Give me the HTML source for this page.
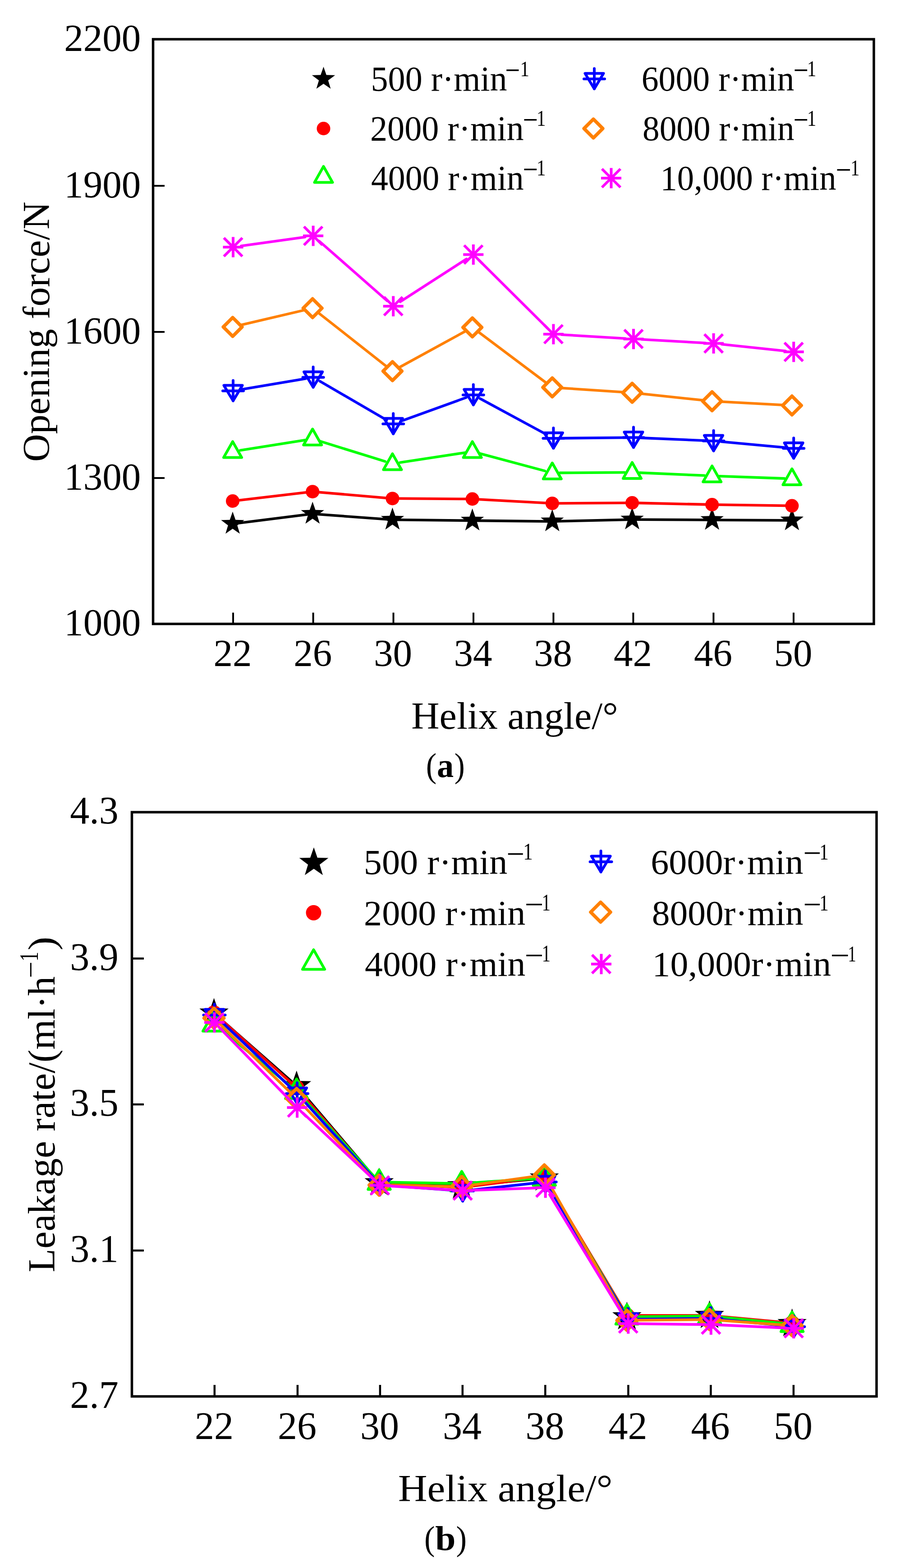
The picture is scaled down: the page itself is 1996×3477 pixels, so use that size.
<!DOCTYPE html>
<html><head><meta charset="utf-8"><title>Figure</title>
<style>
html,body{margin:0;padding:0;background:#fff;}
body{width:1996px;height:3477px;overflow:hidden;}
svg{display:block;}
text{font-family:"Liberation Serif","Times New Roman",serif;font-kerning:none;fill:#000;}
</style></head><body>
<svg width="1996" height="3477" viewBox="0 0 1996 3477">
<rect width="1996" height="3477" fill="#fff"/>
<rect x="339.5" y="87" width="1598.5" height="1296.5" fill="none" stroke="#000" stroke-width="5.5"/>
<path d="M517,1383.5V1358.5M694.6,1383.5V1358.5M872.5,1383.5V1358.5M1050,1383.5V1358.5M1227.4,1383.5V1358.5M1404.4,1383.5V1358.5M1582.4,1383.5V1358.5M1760,1383.5V1358.5M339.5,412H365M339.5,736H365M339.5,1060H365" stroke="#000" stroke-width="4" fill="none"/>
<text x="142.34" y="112.50" font-size="85" textLength="170.00" lengthAdjust="spacingAndGlyphs">2200</text>
<text x="142.34" y="437.50" font-size="85" textLength="170.00" lengthAdjust="spacingAndGlyphs">1900</text>
<text x="142.34" y="761.50" font-size="85" textLength="170.00" lengthAdjust="spacingAndGlyphs">1600</text>
<text x="142.34" y="1085.50" font-size="85" textLength="170.00" lengthAdjust="spacingAndGlyphs">1300</text>
<text x="142.34" y="1409.00" font-size="85" textLength="170.00" lengthAdjust="spacingAndGlyphs">1000</text>
<text x="473.60" y="1477.00" font-size="85" textLength="85.00" lengthAdjust="spacingAndGlyphs">22</text>
<text x="651.20" y="1477.00" font-size="85" textLength="85.00" lengthAdjust="spacingAndGlyphs">26</text>
<text x="829.10" y="1477.00" font-size="85" textLength="85.00" lengthAdjust="spacingAndGlyphs">30</text>
<text x="1006.60" y="1477.00" font-size="85" textLength="85.00" lengthAdjust="spacingAndGlyphs">34</text>
<text x="1184.00" y="1477.00" font-size="85" textLength="85.00" lengthAdjust="spacingAndGlyphs">38</text>
<text x="1361.00" y="1477.00" font-size="85" textLength="85.00" lengthAdjust="spacingAndGlyphs">42</text>
<text x="1539.00" y="1477.00" font-size="85" textLength="85.00" lengthAdjust="spacingAndGlyphs">46</text>
<text x="1716.60" y="1477.00" font-size="85" textLength="85.00" lengthAdjust="spacingAndGlyphs">50</text>
<text x="912.32" y="1615.80" font-size="85" textLength="458.40" lengthAdjust="spacingAndGlyphs">Helix angle/°</text>
<text transform="translate(109.20,1024.11) rotate(-90)" x="0" y="0" font-size="85.6" textLength="577.27" lengthAdjust="spacingAndGlyphs">Opening force/N</text>
<text x="944.70" y="1723.40" font-size="76" textLength="23.47" lengthAdjust="spacingAndGlyphs">(</text>
<text x="969.00" y="1723.40" font-size="76" font-weight="bold" textLength="37.23" lengthAdjust="spacingAndGlyphs">a</text>
<text x="1007.67" y="1723.40" font-size="76" textLength="23.08" lengthAdjust="spacingAndGlyphs">)</text>
<path d="M527.91,1160.11L681.29,1140.99M705.17,1140.38L858.43,1151.62M882.40,1152.63L1035.60,1154.27M1059.60,1154.52L1212.80,1156.08M1236.80,1155.92L1390.00,1152.28M1414.00,1152.07L1567.20,1152.93M1591.20,1153.07L1744.40,1153.93" stroke="#000000" stroke-width="5.8" stroke-linecap="round" fill="none"/>
<polygon points="516.00,1134.60 522.35,1152.86 541.68,1153.26 526.27,1164.94 531.87,1183.44 516.00,1172.40 500.13,1183.44 505.73,1164.94 490.32,1153.26 509.65,1152.86" fill="#000"/>
<polygon points="693.20,1112.50 699.55,1130.76 718.88,1131.16 703.47,1142.84 709.07,1161.34 693.20,1150.30 677.33,1161.34 682.93,1142.84 667.52,1131.16 686.85,1130.76" fill="#000"/>
<polygon points="870.40,1125.50 876.75,1143.76 896.08,1144.16 880.67,1155.84 886.27,1174.34 870.40,1163.30 854.53,1174.34 860.13,1155.84 844.72,1144.16 864.05,1143.76" fill="#000"/>
<polygon points="1047.60,1127.40 1053.95,1145.66 1073.28,1146.06 1057.87,1157.74 1063.47,1176.24 1047.60,1165.20 1031.73,1176.24 1037.33,1157.74 1021.92,1146.06 1041.25,1145.66" fill="#000"/>
<polygon points="1224.80,1129.20 1231.15,1147.46 1250.48,1147.86 1235.07,1159.54 1240.67,1178.04 1224.80,1167.00 1208.93,1178.04 1214.53,1159.54 1199.12,1147.86 1218.45,1147.46" fill="#000"/>
<polygon points="1402.00,1125.00 1408.35,1143.26 1427.68,1143.66 1412.27,1155.34 1417.87,1173.84 1402.00,1162.80 1386.13,1173.84 1391.73,1155.34 1376.32,1143.66 1395.65,1143.26" fill="#000"/>
<polygon points="1579.20,1126.00 1585.55,1144.26 1604.88,1144.66 1589.47,1156.34 1595.07,1174.84 1579.20,1163.80 1563.33,1174.84 1568.93,1156.34 1553.52,1144.66 1572.85,1144.26" fill="#000"/>
<polygon points="1756.40,1127.00 1762.75,1145.26 1782.08,1145.66 1766.67,1157.34 1772.27,1175.84 1756.40,1164.80 1740.53,1175.84 1746.13,1157.34 1730.72,1145.66 1750.05,1145.26" fill="#000"/>
<path d="M525.93,1109.83L683.27,1091.37M703.16,1091.05L860.44,1104.55M880.40,1105.46L1037.60,1106.44M1057.59,1107.05L1214.81,1115.65M1234.80,1116.13L1392.00,1115.07M1412.00,1115.23L1569.20,1118.77M1589.20,1119.15L1746.40,1121.45" stroke="#ff0000" stroke-width="5.8" stroke-linecap="round" fill="none"/>
<circle cx="516.00" cy="1111.00" r="15" fill="#f00"/>
<circle cx="693.20" cy="1090.20" r="15" fill="#f00"/>
<circle cx="870.40" cy="1105.40" r="15" fill="#f00"/>
<circle cx="1047.60" cy="1106.50" r="15" fill="#f00"/>
<circle cx="1224.80" cy="1116.20" r="15" fill="#f00"/>
<circle cx="1402.00" cy="1115.00" r="15" fill="#f00"/>
<circle cx="1579.20" cy="1119.00" r="15" fill="#f00"/>
<circle cx="1756.40" cy="1121.60" r="15" fill="#f00"/>
<path d="M532.79,998.56L676.41,975.94M709.44,978.33L854.16,1023.17M887.21,1025.64L1030.79,1003.76M1064.02,1005.59L1208.38,1044.21M1241.80,1048.49L1385.00,1047.61M1418.98,1048.24L1562.22,1054.46M1596.19,1055.81L1739.41,1060.99" stroke="#00ff00" stroke-width="5.8" stroke-linecap="round" fill="none"/>
<polygon points="516.00,979.20 536.00,1014.60 496.00,1014.60" fill="none" stroke="#0f0" stroke-width="6" stroke-linejoin="round"/>
<polygon points="693.20,951.30 713.20,986.70 673.20,986.70" fill="none" stroke="#0f0" stroke-width="6" stroke-linejoin="round"/>
<polygon points="870.40,1006.20 890.40,1041.60 850.40,1041.60" fill="none" stroke="#0f0" stroke-width="6" stroke-linejoin="round"/>
<polygon points="1047.60,979.20 1067.60,1014.60 1027.60,1014.60" fill="none" stroke="#0f0" stroke-width="6" stroke-linejoin="round"/>
<polygon points="1224.80,1026.60 1244.80,1062.00 1204.80,1062.00" fill="none" stroke="#0f0" stroke-width="6" stroke-linejoin="round"/>
<polygon points="1402.00,1025.50 1422.00,1060.90 1382.00,1060.90" fill="none" stroke="#0f0" stroke-width="6" stroke-linejoin="round"/>
<polygon points="1579.20,1033.20 1599.20,1068.60 1559.20,1068.60" fill="none" stroke="#0f0" stroke-width="6" stroke-linejoin="round"/>
<polygon points="1756.40,1039.60 1776.40,1075.00 1736.40,1075.00" fill="none" stroke="#0f0" stroke-width="6" stroke-linejoin="round"/>
<path d="M533.76,863.97L677.84,839.63M709.30,845.34L857.50,931.46M888.19,934.22L1033.81,881.58M1064.75,883.89L1212.45,963.81M1244.40,971.75L1388.00,970.45M1421.98,971.02L1565.62,977.08M1599.53,979.37L1743.27,992.73" stroke="#0000ff" stroke-width="5.8" stroke-linecap="round" fill="none"/>
<polygon points="496.50,854.60 537.50,854.60 517.00,888.80" fill="none" stroke="#00f" stroke-width="6" stroke-linejoin="round"/>
<path d="M494.00,866.80H540.00M517.00,843.80V888.80" stroke="#00f" stroke-width="6" stroke-linecap="round" fill="none"/>
<polygon points="674.10,824.60 715.10,824.60 694.60,858.80" fill="none" stroke="#00f" stroke-width="6" stroke-linejoin="round"/>
<path d="M671.60,836.80H717.60M694.60,813.80V858.80" stroke="#00f" stroke-width="6" stroke-linecap="round" fill="none"/>
<polygon points="851.70,927.80 892.70,927.80 872.20,962.00" fill="none" stroke="#00f" stroke-width="6" stroke-linejoin="round"/>
<path d="M849.20,940.00H895.20M872.20,917.00V962.00" stroke="#00f" stroke-width="6" stroke-linecap="round" fill="none"/>
<polygon points="1029.30,863.60 1070.30,863.60 1049.80,897.80" fill="none" stroke="#00f" stroke-width="6" stroke-linejoin="round"/>
<path d="M1026.80,875.80H1072.80M1049.80,852.80V897.80" stroke="#00f" stroke-width="6" stroke-linecap="round" fill="none"/>
<polygon points="1206.90,959.70 1247.90,959.70 1227.40,993.90" fill="none" stroke="#00f" stroke-width="6" stroke-linejoin="round"/>
<path d="M1204.40,971.90H1250.40M1227.40,948.90V993.90" stroke="#00f" stroke-width="6" stroke-linecap="round" fill="none"/>
<polygon points="1384.50,958.10 1425.50,958.10 1405.00,992.30" fill="none" stroke="#00f" stroke-width="6" stroke-linejoin="round"/>
<path d="M1382.00,970.30H1428.00M1405.00,947.30V992.30" stroke="#00f" stroke-width="6" stroke-linecap="round" fill="none"/>
<polygon points="1562.10,965.60 1603.10,965.60 1582.60,999.80" fill="none" stroke="#00f" stroke-width="6" stroke-linejoin="round"/>
<path d="M1559.60,977.80H1605.60M1582.60,954.80V999.80" stroke="#00f" stroke-width="6" stroke-linecap="round" fill="none"/>
<polygon points="1739.70,982.10 1780.70,982.10 1760.20,1016.30" fill="none" stroke="#00f" stroke-width="6" stroke-linejoin="round"/>
<path d="M1737.20,994.30H1783.20M1760.20,971.30V1016.30" stroke="#00f" stroke-width="6" stroke-linecap="round" fill="none"/>
<path d="M534.50,720.66L674.70,687.74M708.12,695.16L855.48,811.24M887.07,813.88L1030.93,735.12M1062.80,737.41L1209.60,847.59M1243.76,860.28L1383.04,869.72M1420.90,872.99L1560.30,887.71M1598.17,890.71L1737.43,898.09" stroke="#ff8000" stroke-width="5.8" stroke-linecap="round" fill="none"/>
<polygon points="516.00,704.20 536.80,725.00 516.00,745.80 495.20,725.00" fill="none" stroke="#ff8000" stroke-width="7.5" stroke-linejoin="round"/>
<polygon points="693.20,662.60 714.00,683.40 693.20,704.20 672.40,683.40" fill="none" stroke="#ff8000" stroke-width="7.5" stroke-linejoin="round"/>
<polygon points="870.40,802.20 891.20,823.00 870.40,843.80 849.60,823.00" fill="none" stroke="#ff8000" stroke-width="7.5" stroke-linejoin="round"/>
<polygon points="1047.60,705.20 1068.40,726.00 1047.60,746.80 1026.80,726.00" fill="none" stroke="#ff8000" stroke-width="7.5" stroke-linejoin="round"/>
<polygon points="1224.80,838.20 1245.60,859.00 1224.80,879.80 1204.00,859.00" fill="none" stroke="#ff8000" stroke-width="7.5" stroke-linejoin="round"/>
<polygon points="1402.00,850.20 1422.80,871.00 1402.00,891.80 1381.20,871.00" fill="none" stroke="#ff8000" stroke-width="7.5" stroke-linejoin="round"/>
<polygon points="1579.20,868.90 1600.00,889.70 1579.20,910.50 1558.40,889.70" fill="none" stroke="#ff8000" stroke-width="7.5" stroke-linejoin="round"/>
<polygon points="1756.40,878.30 1777.20,899.10 1756.40,919.90 1735.60,899.10" fill="none" stroke="#ff8000" stroke-width="7.5" stroke-linejoin="round"/>
<path d="M534.82,545.49L676.78,525.51M708.12,534.88L858.68,667.12M887.33,669.25L1034.67,574.25M1062.57,577.19L1214.63,728.31M1245.37,742.08L1387.03,750.62M1422.97,752.70L1564.63,760.60M1600.50,763.48L1742.30,778.42" stroke="#ff00ff" stroke-width="5.8" stroke-linecap="round" fill="none"/>
<path d="M497.50,548.00H536.50M517.00,528.50V567.50" stroke="#f0f" stroke-width="6" stroke-linecap="square" fill="none"/>
<path d="M496.50,527.50L537.50,568.50M537.50,527.50L496.50,568.50" stroke="#f0f" stroke-width="6" stroke-linecap="butt" fill="none"/>
<path d="M675.10,523.00H714.10M694.60,503.50V542.50" stroke="#f0f" stroke-width="6" stroke-linecap="square" fill="none"/>
<path d="M674.10,502.50L715.10,543.50M715.10,502.50L674.10,543.50" stroke="#f0f" stroke-width="6" stroke-linecap="butt" fill="none"/>
<path d="M852.70,679.00H891.70M872.20,659.50V698.50" stroke="#f0f" stroke-width="6" stroke-linecap="square" fill="none"/>
<path d="M851.70,658.50L892.70,699.50M892.70,658.50L851.70,699.50" stroke="#f0f" stroke-width="6" stroke-linecap="butt" fill="none"/>
<path d="M1030.30,564.50H1069.30M1049.80,545.00V584.00" stroke="#f0f" stroke-width="6" stroke-linecap="square" fill="none"/>
<path d="M1029.30,544.00L1070.30,585.00M1070.30,544.00L1029.30,585.00" stroke="#f0f" stroke-width="6" stroke-linecap="butt" fill="none"/>
<path d="M1207.90,741.00H1246.90M1227.40,721.50V760.50" stroke="#f0f" stroke-width="6" stroke-linecap="square" fill="none"/>
<path d="M1206.90,720.50L1247.90,761.50M1247.90,720.50L1206.90,761.50" stroke="#f0f" stroke-width="6" stroke-linecap="butt" fill="none"/>
<path d="M1385.50,751.70H1424.50M1405.00,732.20V771.20" stroke="#f0f" stroke-width="6" stroke-linecap="square" fill="none"/>
<path d="M1384.50,731.20L1425.50,772.20M1425.50,731.20L1384.50,772.20" stroke="#f0f" stroke-width="6" stroke-linecap="butt" fill="none"/>
<path d="M1563.10,761.60H1602.10M1582.60,742.10V781.10" stroke="#f0f" stroke-width="6" stroke-linecap="square" fill="none"/>
<path d="M1562.10,741.10L1603.10,782.10M1603.10,741.10L1562.10,782.10" stroke="#f0f" stroke-width="6" stroke-linecap="butt" fill="none"/>
<path d="M1740.70,780.30H1779.70M1760.20,760.80V799.80" stroke="#f0f" stroke-width="6" stroke-linecap="square" fill="none"/>
<path d="M1739.70,759.80L1780.70,800.80M1780.70,759.80L1739.70,800.80" stroke="#f0f" stroke-width="6" stroke-linecap="butt" fill="none"/>
<polygon points="717.50,148.00 723.85,166.26 743.18,166.66 727.77,178.34 733.37,196.84 717.50,185.80 701.63,196.84 707.23,178.34 691.82,166.66 711.15,166.26" fill="#000"/>
<circle cx="717.50" cy="285.00" r="15" fill="#f00"/>
<polygon points="717.50,369.00 737.50,404.40 697.50,404.40" fill="none" stroke="#0f0" stroke-width="6" stroke-linejoin="round"/>
<polygon points="1297.50,162.80 1338.50,162.80 1318.00,197.00" fill="none" stroke="#00f" stroke-width="6" stroke-linejoin="round"/>
<path d="M1295.00,175.00H1341.00M1318.00,152.00V197.00" stroke="#00f" stroke-width="6" stroke-linecap="round" fill="none"/>
<polygon points="1316.00,264.20 1336.80,285.00 1316.00,305.80 1295.20,285.00" fill="none" stroke="#ff8000" stroke-width="7.5" stroke-linejoin="round"/>
<path d="M1336.00,395.00H1375.00M1355.50,375.50V414.50" stroke="#f0f" stroke-width="6" stroke-linecap="square" fill="none"/>
<path d="M1335.00,374.50L1376.00,415.50M1376.00,374.50L1335.00,415.50" stroke="#f0f" stroke-width="6" stroke-linecap="butt" fill="none"/>
<text x="822.58" y="201.00" font-size="77.5" textLength="302.07" lengthAdjust="spacingAndGlyphs">500 r·min</text>
<text x="1120.28" y="179.24" font-size="70" textLength="33.09" lengthAdjust="spacingAndGlyphs">−</text>
<text x="1153.40" y="169.00" font-size="49.23076923076923" textLength="20.45" lengthAdjust="spacingAndGlyphs">1</text>
<text x="821.05" y="310.70" font-size="77.5" textLength="340.50" lengthAdjust="spacingAndGlyphs">2000 r·min</text>
<text x="1159.54" y="288.64" font-size="70" textLength="33.57" lengthAdjust="spacingAndGlyphs">−</text>
<text x="1190.00" y="278.70" font-size="49.98816568047337" textLength="20.45" lengthAdjust="spacingAndGlyphs">1</text>
<text x="822.92" y="420.70" font-size="77.5" textLength="338.63" lengthAdjust="spacingAndGlyphs">4000 r·min</text>
<text x="1159.54" y="398.64" font-size="70" textLength="33.57" lengthAdjust="spacingAndGlyphs">−</text>
<text x="1190.00" y="388.70" font-size="49.98816568047337" textLength="20.45" lengthAdjust="spacingAndGlyphs">1</text>
<text x="1422.64" y="200.70" font-size="77.5" textLength="338.90" lengthAdjust="spacingAndGlyphs">6000 r·min</text>
<text x="1759.54" y="178.64" font-size="70" textLength="33.57" lengthAdjust="spacingAndGlyphs">−</text>
<text x="1790.00" y="168.70" font-size="49.98816568047337" textLength="20.45" lengthAdjust="spacingAndGlyphs">1</text>
<text x="1425.03" y="310.70" font-size="77.5" textLength="336.51" lengthAdjust="spacingAndGlyphs">8000 r·min</text>
<text x="1759.54" y="288.64" font-size="70" textLength="33.57" lengthAdjust="spacingAndGlyphs">−</text>
<text x="1790.00" y="278.70" font-size="49.98816568047337" textLength="20.45" lengthAdjust="spacingAndGlyphs">1</text>
<text x="1464.54" y="421.10" font-size="77.5" textLength="389.99" lengthAdjust="spacingAndGlyphs">10,000 r·min</text>
<text x="1853.45" y="400.14" font-size="70" textLength="34.54" lengthAdjust="spacingAndGlyphs">−</text>
<text x="1886.15" y="389.10" font-size="50.59408284023669" textLength="20.17" lengthAdjust="spacingAndGlyphs">1</text>
<rect x="292.5" y="1801" width="1651.5" height="1295.5" fill="none" stroke="#000" stroke-width="5.5"/>
<path d="M475.8,3096.5V3071M659.9,3096.5V3071M842.9,3096.5V3071M1025.8,3096.5V3071M1209.3,3096.5V3071M1393.4,3096.5V3071M1576.4,3096.5V3071M1759.9,3096.5V3071M292.5,2125.5H319M292.5,2449H319M292.5,2773H319" stroke="#000" stroke-width="4.5" fill="none"/>
<text x="155.25" y="1826.00" font-size="86" textLength="107.50" lengthAdjust="spacingAndGlyphs">4.3</text>
<text x="155.25" y="2150.50" font-size="86" textLength="107.50" lengthAdjust="spacingAndGlyphs">3.9</text>
<text x="155.25" y="2474.00" font-size="86" textLength="107.50" lengthAdjust="spacingAndGlyphs">3.5</text>
<text x="155.25" y="2798.00" font-size="86" textLength="107.50" lengthAdjust="spacingAndGlyphs">3.1</text>
<text x="155.25" y="3121.50" font-size="86" textLength="107.50" lengthAdjust="spacingAndGlyphs">2.7</text>
<text x="432.00" y="3190.80" font-size="86" textLength="86.00" lengthAdjust="spacingAndGlyphs">22</text>
<text x="616.10" y="3190.80" font-size="86" textLength="86.00" lengthAdjust="spacingAndGlyphs">26</text>
<text x="799.10" y="3190.80" font-size="86" textLength="86.00" lengthAdjust="spacingAndGlyphs">30</text>
<text x="982.00" y="3190.80" font-size="86" textLength="86.00" lengthAdjust="spacingAndGlyphs">34</text>
<text x="1165.50" y="3190.80" font-size="86" textLength="86.00" lengthAdjust="spacingAndGlyphs">38</text>
<text x="1349.60" y="3190.80" font-size="86" textLength="86.00" lengthAdjust="spacingAndGlyphs">42</text>
<text x="1532.60" y="3190.80" font-size="86" textLength="86.00" lengthAdjust="spacingAndGlyphs">46</text>
<text x="1716.10" y="3190.80" font-size="86" textLength="86.00" lengthAdjust="spacingAndGlyphs">50</text>
<text x="882.92" y="3329.00" font-size="85" textLength="475.65" lengthAdjust="spacingAndGlyphs">Helix angle/°</text>
<text transform="translate(120.8,2821.18) rotate(-90)" x="0" y="0" font-size="85.6" textLength="656.11" lengthAdjust="spacingAndGlyphs">Leakage rate/(ml·h</text>
<text transform="translate(88.30,2168.88) rotate(-90)" x="0" y="0" font-size="60" textLength="37.09" lengthAdjust="spacingAndGlyphs">−</text>
<text transform="translate(84.00,2131.64) rotate(-90)" x="0" y="0" font-size="60" textLength="21.30" lengthAdjust="spacingAndGlyphs">1</text>
<text transform="translate(120.80,2107.45) rotate(-90)" x="0" y="0" font-size="85.6" textLength="30.47" lengthAdjust="spacingAndGlyphs">)</text>
<text x="940.90" y="3436.50" font-size="77" textLength="23.47" lengthAdjust="spacingAndGlyphs">(</text>
<text x="965.17" y="3436.50" font-size="77" font-weight="bold" textLength="45.23" lengthAdjust="spacingAndGlyphs">b</text>
<text x="1011.42" y="3436.50" font-size="77" textLength="23.60" lengthAdjust="spacingAndGlyphs">)</text>
<path d="M483.61,2254.92L648.74,2400.08M665.53,2417.14L833.12,2614.16M852.89,2623.74L1012.06,2629.56M1036.00,2628.87L1195.25,2613.83M1213.34,2623.01L1384.21,2910.19M1402.35,2920.30L1561.50,2917.70M1585.44,2918.67L1744.71,2934.33" stroke="#000000" stroke-width="6" stroke-linecap="round" fill="none"/>
<polygon points="474.60,2213.00 482.59,2236.00 506.94,2236.49 487.53,2251.20 494.58,2274.51 474.60,2260.60 454.62,2274.51 461.67,2251.20 442.26,2236.49 466.61,2236.00" fill="#000"/>
<polygon points="657.75,2374.00 665.74,2397.00 690.09,2397.49 670.68,2412.20 677.73,2435.51 657.75,2421.60 637.77,2435.51 644.82,2412.20 625.41,2397.49 649.76,2397.00" fill="#000"/>
<polygon points="840.90,2589.30 848.89,2612.30 873.24,2612.79 853.83,2627.50 860.88,2650.81 840.90,2636.90 820.92,2650.81 827.97,2627.50 808.56,2612.79 832.91,2612.30" fill="#000"/>
<polygon points="1024.05,2596.00 1032.04,2619.00 1056.39,2619.49 1036.98,2634.20 1044.03,2657.51 1024.05,2643.60 1004.07,2657.51 1011.12,2634.20 991.71,2619.49 1016.06,2619.00" fill="#000"/>
<polygon points="1207.20,2578.70 1215.19,2601.70 1239.54,2602.19 1220.13,2616.90 1227.18,2640.21 1207.20,2626.30 1187.22,2640.21 1194.27,2616.90 1174.86,2602.19 1199.21,2601.70" fill="#000"/>
<polygon points="1390.35,2886.50 1398.34,2909.50 1422.69,2909.99 1403.28,2924.70 1410.33,2948.01 1390.35,2934.10 1370.37,2948.01 1377.42,2924.70 1358.01,2909.99 1382.36,2909.50" fill="#000"/>
<polygon points="1573.50,2883.50 1581.49,2906.50 1605.84,2906.99 1586.43,2921.70 1593.48,2945.01 1573.50,2931.10 1553.52,2945.01 1560.57,2921.70 1541.16,2906.99 1565.51,2906.50" fill="#000"/>
<polygon points="1756.65,2901.50 1764.64,2924.50 1788.99,2924.99 1769.58,2939.70 1776.63,2963.01 1756.65,2949.10 1736.67,2963.01 1743.72,2939.70 1724.31,2924.99 1748.66,2924.50" fill="#000"/>
<path d="M482.02,2253.20L650.33,2405.30M664.29,2419.57L834.36,2616.43M850.89,2624.49L1014.06,2632.51M1033.97,2631.75L1197.28,2611.25M1212.32,2618.59L1385.23,2908.41M1400.35,2917.00L1563.50,2917.00M1583.46,2917.92L1746.69,2933.08" stroke="#ff0000" stroke-width="6" stroke-linecap="round" fill="none"/>
<circle cx="474.60" cy="2246.50" r="17" fill="#f00"/>
<circle cx="657.75" cy="2412.00" r="17" fill="#f00"/>
<circle cx="840.90" cy="2624.00" r="17" fill="#f00"/>
<circle cx="1024.05" cy="2633.00" r="17" fill="#f00"/>
<circle cx="1207.20" cy="2610.00" r="17" fill="#f00"/>
<circle cx="1390.35" cy="2917.00" r="17" fill="#f00"/>
<circle cx="1573.50" cy="2917.00" r="17" fill="#f00"/>
<circle cx="1756.65" cy="2934.00" r="17" fill="#f00"/>
<path d="M487.78,2280.94L644.57,2408.76M669.18,2432.09L829.47,2608.61M857.90,2621.51L1007.05,2624.19M1041.01,2623.34L1190.24,2613.16M1215.89,2626.61L1381.66,2905.29M1407.35,2919.74L1556.50,2918.36M1590.42,2919.88L1739.73,2934.72" stroke="#00ff00" stroke-width="6" stroke-linecap="round" fill="none"/>
<polygon points="474.60,2243.20 499.20,2286.60 450.00,2286.60" fill="none" stroke="#0f0" stroke-width="6" stroke-linejoin="round"/>
<polygon points="657.75,2392.50 682.35,2435.90 633.15,2435.90" fill="none" stroke="#0f0" stroke-width="6" stroke-linejoin="round"/>
<polygon points="840.90,2594.20 865.50,2637.60 816.30,2637.60" fill="none" stroke="#0f0" stroke-width="6" stroke-linejoin="round"/>
<polygon points="1024.05,2597.50 1048.65,2640.90 999.45,2640.90" fill="none" stroke="#0f0" stroke-width="6" stroke-linejoin="round"/>
<polygon points="1207.20,2585.00 1231.80,2628.40 1182.60,2628.40" fill="none" stroke="#0f0" stroke-width="6" stroke-linejoin="round"/>
<polygon points="1390.35,2892.90 1414.95,2936.30 1365.75,2936.30" fill="none" stroke="#0f0" stroke-width="6" stroke-linejoin="round"/>
<polygon points="1573.50,2891.20 1598.10,2934.60 1548.90,2934.60" fill="none" stroke="#0f0" stroke-width="6" stroke-linejoin="round"/>
<polygon points="1756.65,2909.40 1781.25,2952.80 1732.05,2952.80" fill="none" stroke="#0f0" stroke-width="6" stroke-linejoin="round"/>
<path d="M487.83,2262.50L646.72,2413.30M670.47,2437.60L831.18,2614.90M859.55,2628.75L1009.20,2639.75M1043.05,2639.16L1192.80,2622.84M1218.48,2635.56L1384.47,2910.94M1410.25,2925.31L1559.80,2923.69M1593.71,2925.20L1743.44,2940.30" stroke="#0000ff" stroke-width="6" stroke-linecap="round" fill="none"/>
<polygon points="454.50,2238.30 496.50,2238.30 475.50,2273.30" fill="none" stroke="#00f" stroke-width="6" stroke-linejoin="round"/>
<path d="M451.50,2250.80H499.50M475.50,2226.80V2273.30" stroke="#00f" stroke-width="6" stroke-linecap="round" fill="none"/>
<polygon points="638.05,2412.50 680.05,2412.50 659.05,2447.50" fill="none" stroke="#00f" stroke-width="6" stroke-linejoin="round"/>
<path d="M635.05,2425.00H683.05M659.05,2401.00V2447.50" stroke="#00f" stroke-width="6" stroke-linecap="round" fill="none"/>
<polygon points="821.60,2615.00 863.60,2615.00 842.60,2650.00" fill="none" stroke="#00f" stroke-width="6" stroke-linejoin="round"/>
<path d="M818.60,2627.50H866.60M842.60,2603.50V2650.00" stroke="#00f" stroke-width="6" stroke-linecap="round" fill="none"/>
<polygon points="1005.15,2628.50 1047.15,2628.50 1026.15,2663.50" fill="none" stroke="#00f" stroke-width="6" stroke-linejoin="round"/>
<path d="M1002.15,2641.00H1050.15M1026.15,2617.00V2663.50" stroke="#00f" stroke-width="6" stroke-linecap="round" fill="none"/>
<polygon points="1188.70,2608.50 1230.70,2608.50 1209.70,2643.50" fill="none" stroke="#00f" stroke-width="6" stroke-linejoin="round"/>
<path d="M1185.70,2621.00H1233.70M1209.70,2597.00V2643.50" stroke="#00f" stroke-width="6" stroke-linecap="round" fill="none"/>
<polygon points="1372.25,2913.00 1414.25,2913.00 1393.25,2948.00" fill="none" stroke="#00f" stroke-width="6" stroke-linejoin="round"/>
<path d="M1369.25,2925.50H1417.25M1393.25,2901.50V2948.00" stroke="#00f" stroke-width="6" stroke-linecap="round" fill="none"/>
<polygon points="1555.80,2911.00 1597.80,2911.00 1576.80,2946.00" fill="none" stroke="#00f" stroke-width="6" stroke-linejoin="round"/>
<path d="M1552.80,2923.50H1600.80M1576.80,2899.50V2946.00" stroke="#00f" stroke-width="6" stroke-linecap="round" fill="none"/>
<polygon points="1739.35,2929.50 1781.35,2929.50 1760.35,2964.50" fill="none" stroke="#00f" stroke-width="6" stroke-linejoin="round"/>
<path d="M1736.35,2942.00H1784.35M1760.35,2918.00V2964.50" stroke="#00f" stroke-width="6" stroke-linecap="round" fill="none"/>
<path d="M488.21,2270.95L644.14,2422.75M670.86,2449.75L827.79,2614.25M859.90,2628.31L1005.05,2630.69M1042.87,2628.38L1188.38,2608.12M1216.59,2622.02L1380.96,2911.28M1409.35,2927.61L1554.50,2926.19M1592.45,2927.41L1737.70,2938.19" stroke="#ff8000" stroke-width="6" stroke-linecap="round" fill="none"/>
<polygon points="474.60,2235.70 496.60,2257.70 474.60,2279.70 452.60,2257.70" fill="none" stroke="#ff8000" stroke-width="7.5" stroke-linejoin="round"/>
<polygon points="657.75,2414.00 679.75,2436.00 657.75,2458.00 635.75,2436.00" fill="none" stroke="#ff8000" stroke-width="7.5" stroke-linejoin="round"/>
<polygon points="840.90,2606.00 862.90,2628.00 840.90,2650.00 818.90,2628.00" fill="none" stroke="#ff8000" stroke-width="7.5" stroke-linejoin="round"/>
<polygon points="1024.05,2609.00 1046.05,2631.00 1024.05,2653.00 1002.05,2631.00" fill="none" stroke="#ff8000" stroke-width="7.5" stroke-linejoin="round"/>
<polygon points="1207.20,2583.50 1229.20,2605.50 1207.20,2627.50 1185.20,2605.50" fill="none" stroke="#ff8000" stroke-width="7.5" stroke-linejoin="round"/>
<polygon points="1390.35,2905.80 1412.35,2927.80 1390.35,2949.80 1368.35,2927.80" fill="none" stroke="#ff8000" stroke-width="7.5" stroke-linejoin="round"/>
<polygon points="1573.50,2904.00 1595.50,2926.00 1573.50,2948.00 1551.50,2926.00" fill="none" stroke="#ff8000" stroke-width="7.5" stroke-linejoin="round"/>
<polygon points="1756.65,2917.60 1778.65,2939.60 1756.65,2961.60 1734.65,2939.60" fill="none" stroke="#ff8000" stroke-width="7.5" stroke-linejoin="round"/>
<path d="M488.05,2280.20L646.50,2443.10M672.17,2468.33L829.48,2616.17M860.56,2629.65L1008.19,2639.05M1044.14,2639.56L1191.71,2634.34M1219.06,2649.07L1383.89,2919.63M1411.25,2935.23L1558.80,2937.07M1594.78,2938.10L1742.37,2944.70" stroke="#ff00ff" stroke-width="6" stroke-linecap="round" fill="none"/>
<path d="M456.00,2267.30H495.00M475.50,2247.80V2286.80" stroke="#f0f" stroke-width="6" stroke-linecap="square" fill="none"/>
<path d="M455.00,2246.80L496.00,2287.80M496.00,2246.80L455.00,2287.80" stroke="#f0f" stroke-width="6" stroke-linecap="butt" fill="none"/>
<path d="M639.55,2456.00H678.55M659.05,2436.50V2475.50" stroke="#f0f" stroke-width="6" stroke-linecap="square" fill="none"/>
<path d="M638.55,2435.50L679.55,2476.50M679.55,2435.50L638.55,2476.50" stroke="#f0f" stroke-width="6" stroke-linecap="butt" fill="none"/>
<path d="M823.10,2628.50H862.10M842.60,2609.00V2648.00" stroke="#f0f" stroke-width="6" stroke-linecap="square" fill="none"/>
<path d="M822.10,2608.00L863.10,2649.00M863.10,2608.00L822.10,2649.00" stroke="#f0f" stroke-width="6" stroke-linecap="butt" fill="none"/>
<path d="M1006.65,2640.20H1045.65M1026.15,2620.70V2659.70" stroke="#f0f" stroke-width="6" stroke-linecap="square" fill="none"/>
<path d="M1005.65,2619.70L1046.65,2660.70M1046.65,2619.70L1005.65,2660.70" stroke="#f0f" stroke-width="6" stroke-linecap="butt" fill="none"/>
<path d="M1190.20,2633.70H1229.20M1209.70,2614.20V2653.20" stroke="#f0f" stroke-width="6" stroke-linecap="square" fill="none"/>
<path d="M1189.20,2613.20L1230.20,2654.20M1230.20,2613.20L1189.20,2654.20" stroke="#f0f" stroke-width="6" stroke-linecap="butt" fill="none"/>
<path d="M1373.75,2935.00H1412.75M1393.25,2915.50V2954.50" stroke="#f0f" stroke-width="6" stroke-linecap="square" fill="none"/>
<path d="M1372.75,2914.50L1413.75,2955.50M1413.75,2914.50L1372.75,2955.50" stroke="#f0f" stroke-width="6" stroke-linecap="butt" fill="none"/>
<path d="M1557.30,2937.30H1596.30M1576.80,2917.80V2956.80" stroke="#f0f" stroke-width="6" stroke-linecap="square" fill="none"/>
<path d="M1556.30,2916.80L1597.30,2957.80M1597.30,2916.80L1556.30,2957.80" stroke="#f0f" stroke-width="6" stroke-linecap="butt" fill="none"/>
<path d="M1740.85,2945.50H1779.85M1760.35,2926.00V2965.00" stroke="#f0f" stroke-width="6" stroke-linecap="square" fill="none"/>
<path d="M1739.85,2925.00L1780.85,2966.00M1780.85,2925.00L1739.85,2966.00" stroke="#f0f" stroke-width="6" stroke-linecap="butt" fill="none"/>
<polygon points="696.00,1879.00 703.99,1902.00 728.34,1902.49 708.93,1917.20 715.98,1940.51 696.00,1926.60 676.02,1940.51 683.07,1917.20 663.66,1902.49 688.01,1902.00" fill="#000"/>
<circle cx="695.50" cy="2024.00" r="17" fill="#f00"/>
<polygon points="695.50,2106.00 720.10,2149.40 670.90,2149.40" fill="none" stroke="#0f0" stroke-width="6" stroke-linejoin="round"/>
<polygon points="1311.60,1898.50 1353.60,1898.50 1332.60,1933.50" fill="none" stroke="#00f" stroke-width="6" stroke-linejoin="round"/>
<path d="M1308.60,1911.00H1356.60M1332.60,1887.00V1933.50" stroke="#00f" stroke-width="6" stroke-linecap="round" fill="none"/>
<polygon points="1332.00,2000.70 1354.00,2022.70 1332.00,2044.70 1310.00,2022.70" fill="none" stroke="#ff8000" stroke-width="7.5" stroke-linejoin="round"/>
<path d="M1314.00,2137.80H1353.00M1333.50,2118.30V2157.30" stroke="#f0f" stroke-width="6" stroke-linecap="square" fill="none"/>
<path d="M1313.00,2117.30L1354.00,2158.30M1354.00,2117.30L1313.00,2158.30" stroke="#f0f" stroke-width="6" stroke-linecap="butt" fill="none"/>
<text x="806.84" y="1938.10" font-size="77.5" textLength="318.57" lengthAdjust="spacingAndGlyphs">500 r·min</text>
<text x="1123.37" y="1916.64" font-size="70" textLength="39.99" lengthAdjust="spacingAndGlyphs">−</text>
<text x="1160.23" y="1906.10" font-size="51.957396449704135" textLength="21.45" lengthAdjust="spacingAndGlyphs">1</text>
<text x="807.08" y="2051.00" font-size="77.5" textLength="358.33" lengthAdjust="spacingAndGlyphs">2000 r·min</text>
<text x="1163.49" y="2028.94" font-size="70" textLength="42.06" lengthAdjust="spacingAndGlyphs">−</text>
<text x="1201.63" y="2019.00" font-size="51.80591715976332" textLength="19.17" lengthAdjust="spacingAndGlyphs">1</text>
<text x="809.04" y="2164.00" font-size="77.5" textLength="356.36" lengthAdjust="spacingAndGlyphs">4000 r·min</text>
<text x="1163.49" y="2141.94" font-size="70" textLength="42.06" lengthAdjust="spacingAndGlyphs">−</text>
<text x="1201.63" y="2132.00" font-size="51.80591715976332" textLength="19.17" lengthAdjust="spacingAndGlyphs">1</text>
<text x="1443.26" y="1937.80" font-size="77.5" textLength="338.36" lengthAdjust="spacingAndGlyphs">6000r·min</text>
<text x="1781.25" y="1914.84" font-size="70" textLength="40.24" lengthAdjust="spacingAndGlyphs">−</text>
<text x="1817.20" y="1905.80" font-size="50.29112426035503" textLength="20.45" lengthAdjust="spacingAndGlyphs">1</text>
<text x="1445.67" y="2050.70" font-size="77.5" textLength="335.94" lengthAdjust="spacingAndGlyphs">8000r·min</text>
<text x="1781.25" y="2028.64" font-size="70" textLength="40.24" lengthAdjust="spacingAndGlyphs">−</text>
<text x="1817.20" y="2018.70" font-size="50.29112426035503" textLength="20.45" lengthAdjust="spacingAndGlyphs">1</text>
<text x="1446.59" y="2164.20" font-size="77.5" textLength="396.52" lengthAdjust="spacingAndGlyphs">10,000r·min</text>
<text x="1841.30" y="2141.64" font-size="70" textLength="43.02" lengthAdjust="spacingAndGlyphs">−</text>
<text x="1880.58" y="2132.20" font-size="51.50295857988166" textLength="18.32" lengthAdjust="spacingAndGlyphs">1</text>
</svg>
</body></html>
